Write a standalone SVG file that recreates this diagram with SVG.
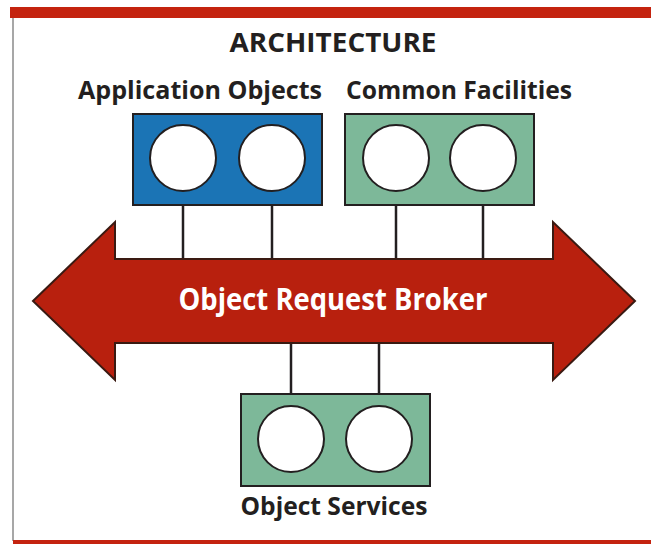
<svg xmlns="http://www.w3.org/2000/svg" width="651" height="544" viewBox="0 0 651 544">
<style>
  .lbl { font-family: "Open Sans", "Noto Sans", "Liberation Sans", sans-serif; font-weight: bold; fill: #231f20; text-anchor: middle; }
  .box { stroke: #231f20; stroke-width: 2; }
  .obj { fill: #ffffff; stroke: #231f20; stroke-width: 2; }
  .conn { stroke: #231f20; stroke-width: 2.5; fill: none; }
</style>
<rect x="0" y="0" width="651" height="544" fill="#ffffff"/>
<g id="frame">
  <rect x="10" y="7" width="641" height="11" fill="#c4230f"/>
  <line x1="13" y1="18" x2="13" y2="541" stroke="#8a8a8a" stroke-width="1.5"/>
  <rect x="13" y="540" width="638" height="4" fill="#c4230f"/>
</g>
<text id="title" class="lbl" x="333" y="52" font-size="26" textLength="207" lengthAdjust="spacingAndGlyphs">ARCHITECTURE</text>
<g id="connectors">
  <line class="conn" x1="183" y1="191" x2="183" y2="259"/>
  <line class="conn" x1="272" y1="191" x2="272" y2="259"/>
  <line class="conn" x1="396" y1="191" x2="396" y2="259"/>
  <line class="conn" x1="483" y1="191" x2="483" y2="259"/>
  <line class="conn" x1="291" y1="343" x2="291" y2="406"/>
  <line class="conn" x1="379" y1="343" x2="379" y2="406"/>
</g>
<g id="application-objects">
  <text class="lbl" x="200" y="99" font-size="25" textLength="244" lengthAdjust="spacingAndGlyphs">Application Objects</text>
  <rect class="box" x="133" y="114" width="189" height="91" fill="#1b74b5"/>
  <circle class="obj" cx="183" cy="158" r="33"/>
  <circle class="obj" cx="272" cy="158" r="33"/>
</g>
<g id="common-facilities">
  <text class="lbl" x="459" y="99" font-size="25" textLength="226" lengthAdjust="spacingAndGlyphs">Common Facilities</text>
  <rect class="box" x="345" y="114" width="189" height="91" fill="#7db899"/>
  <circle class="obj" cx="396" cy="158" r="33"/>
  <circle class="obj" cx="483" cy="158" r="33"/>
</g>
<g id="object-request-broker">
  <polygon points="33,301 115,222 115,259 553,259 553,222 635,301 553,380 553,343 115,343 115,380" fill="#b8200e" stroke="#3a1a12" stroke-width="2" stroke-linejoin="miter"/>
  <text x="333" y="310" font-family="'Open Sans', 'Noto Sans', 'Liberation Sans', sans-serif" font-weight="bold" font-size="30" fill="#ffffff" text-anchor="middle" textLength="309" lengthAdjust="spacingAndGlyphs">Object Request Broker</text>
</g>
<g id="object-services">
  <rect class="box" x="241" y="394" width="189" height="92" fill="#7db899"/>
  <circle class="obj" cx="291" cy="439" r="33"/>
  <circle class="obj" cx="379" cy="439" r="33"/>
  <text class="lbl" x="334" y="515" font-size="25" textLength="187" lengthAdjust="spacingAndGlyphs">Object Services</text>
</g>
</svg>
